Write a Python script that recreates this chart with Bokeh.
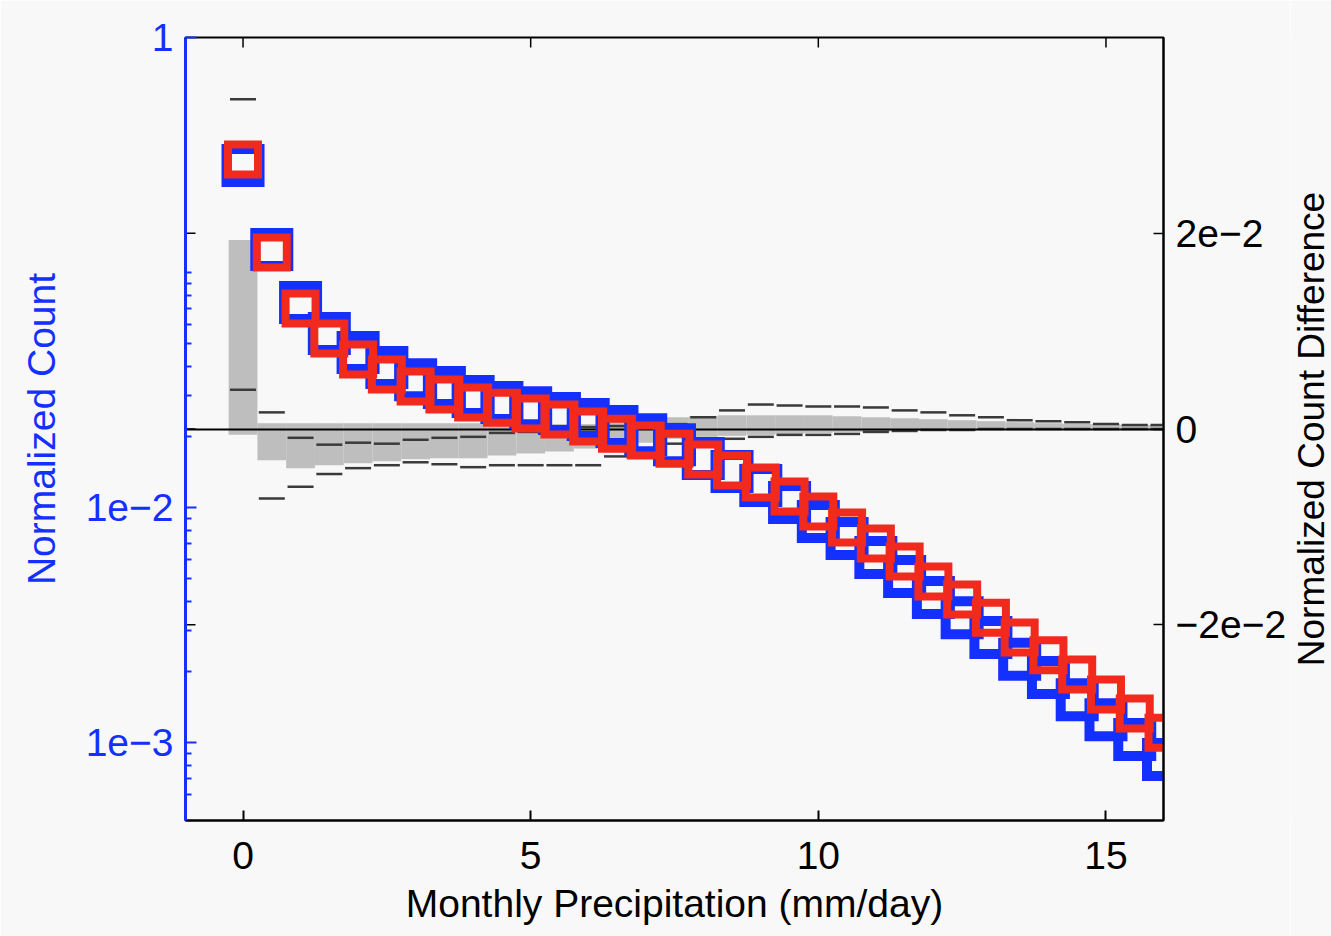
import math
from bokeh.plotting import figure
from bokeh.layouts import row
from bokeh.models import (Range1d, LinearAxis, LinearScale, FixedTicker,
                          CustomJSTickFormatter, ColumnDataSource)
from bokeh.core.properties import value
from bokeh.embed import file_html
from bokeh.resources import INLINE

# ---------------- data ----------------
precip = [0.0, 0.5, 1.0, 1.5, 2.0, 2.5, 3.0, 3.5, 4.0, 4.5, 5.0, 5.5, 6.0, 6.5,
          7.0, 7.5, 8.0, 8.5, 9.0, 9.5, 10.0, 10.5, 11.0, 11.5, 12.0, 12.5,
          13.0, 13.5, 14.0, 14.5, 15.0, 15.5, 16.0]

blue_count = [0.2852, 0.1253, 0.0745, 0.0550, 0.0457, 0.0394, 0.0350, 0.0324,
              0.0297, 0.0280, 0.0266, 0.0251, 0.0237, 0.0221, 0.0204, 0.0185,
              0.01616, 0.01423, 0.01241, 0.01050, 0.00872, 0.00738, 0.00613,
              0.00509, 0.00414, 0.00340, 0.00280, 0.00226, 0.00189, 0.00152,
              0.00125, 0.00103, 0.000847]

red_count = [0.3027, 0.1217, 0.0703, 0.0524, 0.0426, 0.0368, 0.0327, 0.0303,
             0.0280, 0.0266, 0.0251, 0.0237, 0.0221, 0.0206, 0.0193, 0.0178,
             0.0160, 0.01437, 0.01278, 0.01114, 0.00962, 0.00822, 0.00703,
             0.00589, 0.00484, 0.00406, 0.00340, 0.00280, 0.00235, 0.00195,
             0.00160, 0.00133, 0.00110]

diff_hi = [0.0193, 0.0006, 0.0006, 0.0006, 0.0006, 0.0006, 0.0006, 0.0006,
           0.0006, 0.0006, 0.0005, 0.0005, 0.0005, 0.0008, 0.0010, 0.0012,
           0.0013, 0.0014, 0.0014, 0.0014, 0.0014, 0.0013, 0.0012, 0.0011,
           0.0010, 0.0009, 0.0008, 0.0007, 0.0006, 0.0005, 0.0005, 0.0004, 0.0004]

diff_lo = [-0.0006, -0.0032, -0.0040, -0.0037, -0.0035, -0.0033, -0.0031,
           -0.0030, -0.0030, -0.0027, -0.0025, -0.0023, -0.0020, -0.0017,
           -0.0014, -0.0010, -0.0008, -0.0007, -0.0006, -0.0005, -0.0004,
           -0.0003, -0.0003, -0.0002, -0.0002, -0.0002, -0.0001, -0.0001,
           -0.0001, -0.0001, -0.0001, -0.0001, -0.0001]

dash_hi = [0.0337, 0.0017, -0.0009, -0.0016, -0.0014, -0.0015, -0.0011, -0.0009,
           -0.0008, -0.0004, -0.0003, -0.0001, 0.0002, 0.0003, 0.0004, 0.0005,
           0.0012, 0.0019, 0.0025, 0.0024, 0.0023, 0.0023, 0.0022, 0.0019,
           0.0017, 0.0014, 0.0012, 0.0009, 0.0008, 0.0007, 0.0005, 0.0004, 0.0004]

dash_lo = [0.0040, -0.0071, -0.0059, -0.0046, -0.0040, -0.0037, -0.0034, -0.0036,
           -0.0039, -0.0037, -0.0037, -0.0037, -0.0037, -0.0028, -0.0022, -0.0015,
           -0.0011, -0.0010, -0.0008, -0.0006, -0.0006, -0.0005, -0.0003, -0.0002,
           -0.0001, -0.0001, 0.0, 0.0, 0.0, 0.0, 0.0, 0.0, 0.0]

x_ticks = [0, 5, 10, 15]
count_ticks = [1e-3, 1e-2, 1.0]
count_minor_ticks = [6e-4, 7e-4, 8e-4, 9e-4,
                     2e-3, 3e-3, 4e-3, 5e-3, 6e-3, 7e-3, 8e-3, 9e-3,
                     2e-2, 3e-2, 4e-2, 5e-2, 6e-2, 7e-2, 8e-2, 9e-2, 0.1]
diff_ticks = [-0.02, 0.0, 0.02]

x_label = "Monthly Precipitation (mm/day)"
left_label = "Normalized Count"
right_label = "Normalized Count Difference"

# ---------------- style ----------------
FONT = "Liberation Sans"
FS = "39px"
BLUE = "#1430ff"
RED = "#f22a1e"
BG = "#f8f8f8"
TOP, BOTTOM = 37, 116

p = figure(width=1290, height=936, y_axis_type="log",
           x_range=Range1d(-1, 16), y_range=Range1d(4.66e-4, 1.0),
           output_backend="svg", toolbar_location=None,
           min_border_left=185, min_border_right=127,
           min_border_top=TOP, min_border_bottom=BOTTOM)
p.extra_y_ranges = {"diff": Range1d(-0.04, 0.04)}
p.extra_y_scales = {"diff": LinearScale()}
p.grid.visible = False
p.background_fill_color = BG
p.border_fill_color = BG
p.outline_line_color = "black"
p.outline_line_width = 2

# bottom axis
xa = p.xaxis[0]
xa.ticker = FixedTicker(ticks=x_ticks, minor_ticks=[])
xa.axis_label = x_label
xa.axis_label_text_font = FONT
xa.axis_label_text_font_style = "normal"
xa.axis_label_text_font_size = FS
xa.axis_label_text_color = "black"
xa.axis_label_standoff = 10
xa.major_label_text_font = FONT
xa.major_label_text_font_size = FS
xa.major_label_text_color = "black"
xa.major_label_standoff = 21
xa.major_tick_in = 10
xa.major_tick_out = 0
xa.minor_tick_in = 0
xa.minor_tick_out = 0
xa.axis_line_width = 2
xa.major_tick_line_width = 2

# left log axis
ya = p.yaxis[0]
ya.ticker = FixedTicker(ticks=count_ticks, minor_ticks=count_minor_ticks)
ya.formatter = CustomJSTickFormatter(
    code='if (tick > 0.5) { return "1"; } return "1e\u2212" + Math.round(-Math.log10(tick));')
ya.axis_label = left_label
ya.axis_label_text_font = FONT
ya.axis_label_text_font_style = "normal"
ya.axis_label_text_font_size = FS
ya.axis_label_text_color = BLUE
ya.axis_label_standoff = 20
ya.major_label_text_font = FONT
ya.major_label_text_font_size = FS
ya.major_label_text_color = BLUE
ya.major_label_standoff = 12
ya.axis_line_color = BLUE
ya.axis_line_width = 3
ya.major_tick_line_color = BLUE
ya.minor_tick_line_color = BLUE
ya.major_tick_in = 11
ya.major_tick_out = 0
ya.minor_tick_in = 6
ya.minor_tick_out = 0
ya.major_tick_line_width = 2
ya.minor_tick_line_width = 2

# right linear axis (difference)
ra = LinearAxis(y_range_name="diff",
                ticker=FixedTicker(ticks=diff_ticks, minor_ticks=[]),
                formatter=CustomJSTickFormatter(
                    code='if (Math.abs(tick) < 1e-9) { return "0"; } '
                         'return (tick < 0 ? "\u2212" : "") + Math.round(Math.abs(tick) * 100) + "e\u22122";'),
                major_label_text_font=FONT, major_label_text_font_size=FS,
                major_label_text_color="black",
                major_label_standoff=12, major_tick_in=10, major_tick_out=0,
                minor_tick_in=0, minor_tick_out=0, axis_line_width=2,
                major_tick_line_width=1.5)
p.add_layout(ra, "right")

# ---------------- glyphs ----------------
src = ColumnDataSource(dict(x=precip, blue=blue_count, red=red_count,
                            lo=diff_lo, hi=diff_hi, dhi=dash_hi, dlo=dash_lo))

p.vbar(x="x", width=0.5, bottom="lo", top="hi", source=src, y_range_name="diff",
       fill_color="#bebebe", line_color=None)
p.dash(x="x", y="dhi", source=src, y_range_name="diff", size=26,
       line_width=2.5, line_color="#3a3a3a")
p.dash(x="x", y="dlo", source=src, y_range_name="diff", size=26,
       line_width=2.5, line_color="#3a3a3a")
p.hspan(y=[0.0], y_range_name="diff", line_color="black", line_width=2)

# mirrored ticks: difference ticks on the left edge, x ticks on the top edge
p.dash(x=[p.x_range.start] * len(diff_ticks), y=diff_ticks, y_range_name="diff",
       size=20, line_width=1.5, line_color="black")
p.dash(x=x_ticks, y=[p.y_range.end] * len(x_ticks), angle=math.pi / 2,
       size=20, line_width=1.5, line_color="black")

p.scatter(x="x", y="blue", source=src, marker="square", size=33, line_width=10,
          line_color=BLUE, fill_color=None, line_join="miter")
p.scatter(x="x", y="red", source=src, marker="square", size=30, line_width=8,
          line_color=RED, fill_color=None, line_join="miter")

# ---------------- right-hand axis title (reads bottom-to-top) ----------------
q = figure(width=41, height=936, x_range=Range1d(0, 1), y_range=Range1d(-0.04, 0.04),
           output_backend="svg", toolbar_location=None,
           x_axis_location=None, y_axis_location=None,
           min_border_left=0, min_border_right=0,
           min_border_top=TOP, min_border_bottom=BOTTOM)
q.grid.visible = False
q.outline_line_color = None
q.background_fill_color = BG
q.border_fill_color = BG
q.text(x=[0.5], y=[0.0], text=[right_label], angle=math.pi / 2,
       text_align="center", text_baseline="middle",
       text_font=value(FONT), text_font_size="37px", text_color="black")

layout = row(p, q, spacing=0)
open("out.html", "w").write(file_html(layout, INLINE))
